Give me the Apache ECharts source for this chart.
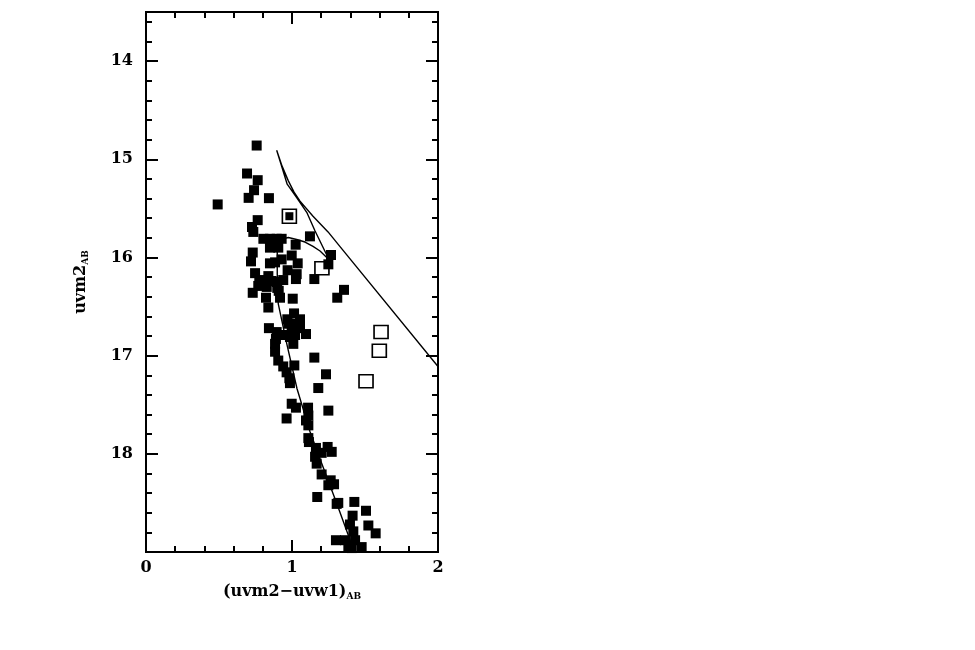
<!DOCTYPE html>
<html><head><meta charset="utf-8">
<script src="https://cdn.jsdelivr.net/npm/echarts@6/dist/echarts.min.js"></script>
<style>html,body{margin:0;padding:0;background:#fff}#c{width:975px;height:650px}</style>
</head><body><div id="c"></div>
<script>
// Filled squares: (uvm2-uvw1)_AB colour and uvm2_AB magnitude
const starColor = [0.758,0.692,0.765,0.740,0.703,0.842,0.491,0.765,0.726,0.735,
  0.804,0.849,0.895,0.929,1.123,1.025,0.849,0.906,0.731,1.267,
  0.998,0.719,0.929,0.849,0.884,1.039,1.249,0.970,0.747,1.032,
  0.838,0.776,0.815,0.861,0.895,0.940,1.153,1.027,0.769,0.827,
  0.899,1.356,0.731,0.909,1.310,0.822,0.918,1.005,0.838,1.014,
  0.968,1.055,0.975,1.021,0.842,0.895,1.055,0.998,1.021,0.952,
  1.096,0.890,0.986,0.884,1.009,0.884,1.153,0.906,0.940,1.016,
  0.963,1.233,0.982,0.986,1.180,0.998,1.027,1.110,1.249,0.963,
  1.112,1.096,1.112,1.112,1.116,1.164,1.244,1.272,1.203,1.158,
  1.169,1.203,1.265,1.288,1.249,1.173,1.306,1.317,1.427,1.507,
  1.415,1.397,1.420,1.523,1.573,1.301,1.363,1.432,1.386,1.409,1.477];
const starMag = [14.86,15.145,15.213,15.315,15.393,15.396,15.46,15.62,15.69,15.74,
  15.81,15.81,15.81,15.81,15.785,15.87,15.90,15.90,15.95,15.975,
  15.98,16.04,16.02,16.06,16.05,16.06,16.07,16.13,16.16,16.17,
  16.19,16.23,16.25,16.24,16.25,16.23,16.22,16.22,16.29,16.30,
  16.31,16.33,16.36,16.34,16.41,16.41,16.41,16.42,16.51,16.57,
  16.63,16.63,16.675,16.675,16.72,16.76,16.72,16.76,16.79,16.79,
  16.78,16.83,16.81,16.88,16.88,16.96,17.02,17.05,17.11,17.10,
  17.17,17.19,17.23,17.28,17.33,17.49,17.53,17.53,17.56,17.64,
  17.61,17.66,17.71,17.84,17.88,17.94,17.93,17.98,17.99,18.03,
  18.10,18.21,18.27,18.31,18.32,18.44,18.51,18.50,18.49,18.58,
  18.63,18.72,18.79,18.73,18.81,18.88,18.88,18.88,18.94,18.96,18.95];
// Open squares
const openColor = [1.205,1.610,1.598,1.507];
const openMag = [16.11,16.76,16.95,17.26];
// Boxed (filled inside open) square
const boxedColor = [0.982];
const boxedMag = [15.58];
// Isochrone curve
const isoColor = [1.418,1.397,1.306,1.203,1.123,1.034,0.964,0.906,0.899,0.899,0.908,0.932,0.975,1.032,1.089,1.144,1.192,1.238,1.267,
  1.238,1.158,1.101,1.032,0.967,0.925,0.895,
  0.932,0.975,1.014,1.055,1.144,1.247,1.329,2.0];
const isoMag = [18.985,18.875,18.503,18.096,17.772,17.335,16.878,16.472,16.168,15.914,15.843,15.812,15.797,15.817,15.843,15.888,15.934,16.0,16.046,
  15.975,15.73,15.54,15.39,15.254,15.05,14.909,
  15.07,15.22,15.335,15.426,15.58,15.74,15.89,17.11];
// Ticks
const xMajorTicks = [0,1,2];
const xMinorTicks = [0.2,0.4,0.6,0.8,1.2,1.4,1.6,1.8];
const yMajorTicks = [14,15,16,17,18];
const yMinorTicks = [13.6,13.8,14.2,14.4,14.6,14.8,15.2,15.4,15.6,15.8,16.2,16.4,16.6,16.8,17.2,17.4,17.6,17.8,18.2,18.4,18.6,18.8];
const xTitle = '(uvm2\u2212uvw1)';
const yTitle = 'uvm2';
const subText = 'AB';

const FONT = 'DejaVu Serif';
const zip = (a, b) => a.map((v, i) => [v, b[i]]);
const lineSt = {color: '#000', width: 2};
const richSty = {
  m: {fontFamily: FONT, fontWeight: 'bold', fontSize: 16, color: '#000', lineHeight: 18},
  s: {fontFamily: FONT, fontWeight: 'bold', fontSize: 9, color: '#000', lineHeight: 9, verticalAlign: 'bottom'}
};
function ax(kind, pos, ticks, len, labels, extra) {
  const o = {
    type: 'value', position: pos,
    min: kind === 'x' ? 0 : 13.5, max: kind === 'x' ? 2 : 19,
    inverse: kind === 'y',
    axisLine: {show: true, onZero: false, lineStyle: lineSt},
    axisTick: {show: true, inside: true, length: len, customValues: ticks, lineStyle: lineSt},
    axisLabel: labels ? {show: true, customValues: ticks, fontFamily: FONT, fontWeight: 'bold', fontSize: 16, color: '#000', margin: kind === 'x' ? 8 : 13} : {show: false},
    splitLine: {show: false}
  };
  return Object.assign(o, extra || {});
}
const chart = echarts.init(document.getElementById('c'), null, {renderer: 'canvas'});
chart.setOption({
  animation: false,
  backgroundColor: '#fff',
  grid: {left: 146, top: 12, width: 292, height: 540, containLabel: false},
  xAxis: [
    ax('x', 'bottom', xMajorTicks, 12, true, {name: '{m|' + xTitle + '}{s|' + subText + '}', nameLocation: 'middle', nameGap: 31, nameTextStyle: {rich: richSty}}),
    ax('x', 'bottom', xMinorTicks, 6, false),
    ax('x', 'top', xMajorTicks, 12, false),
    ax('x', 'top', xMinorTicks, 6, false)
  ],
  yAxis: [
    ax('y', 'left', yMajorTicks, 12, true, {name: '{m|' + yTitle + '}{s|' + subText + '}', nameLocation: 'middle', nameGap: 56, nameTextStyle: {rich: richSty}}),
    ax('y', 'left', yMinorTicks, 6, false),
    ax('y', 'right', yMajorTicks, 12, false),
    ax('y', 'right', yMinorTicks, 6, false)
  ],
  series: [
    {type: 'line', data: zip(isoColor, isoMag), xAxisIndex: 0, yAxisIndex: 0, showSymbol: false, symbol: 'none', smooth: false, clip: true,
     lineStyle: {color: '#000', width: 1.4}, z: 3},
    {type: 'scatter', data: zip(starColor, starMag), xAxisIndex: 0, yAxisIndex: 0, symbol: 'rect', symbolSize: 10, clip: true,
     itemStyle: {color: '#000', opacity: 1}, z: 2},
    {type: 'scatter', data: zip(openColor, openMag), xAxisIndex: 0, yAxisIndex: 0, symbol: 'rect', symbolSize: [14, 13],
     itemStyle: {color: 'rgba(255,255,255,0)', borderColor: '#000', borderWidth: 1.6, opacity: 1}, z: 4},
    {type: 'scatter', data: zip(boxedColor, boxedMag), xAxisIndex: 0, yAxisIndex: 0, symbol: 'rect', symbolSize: 14,
     itemStyle: {color: 'rgba(255,255,255,0)', borderColor: '#000', borderWidth: 1.6, opacity: 1}, z: 4},
    {type: 'scatter', data: zip(boxedColor, boxedMag), xAxisIndex: 0, yAxisIndex: 0, symbol: 'rect', symbolSize: 8,
     itemStyle: {color: '#000', opacity: 1}, z: 5}
  ]
});
</script></body></html>
